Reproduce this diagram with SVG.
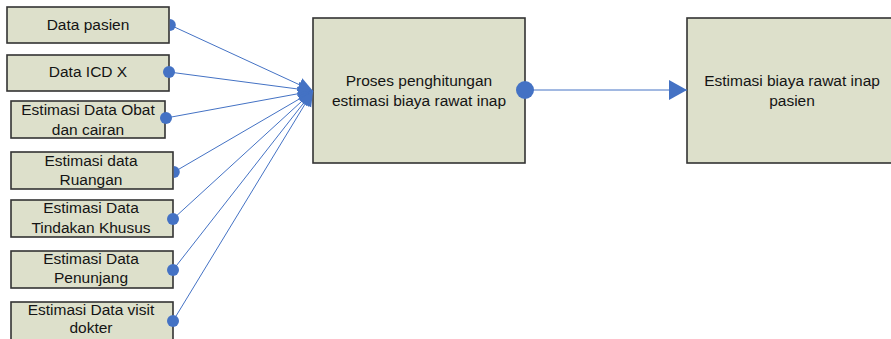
<svg xmlns="http://www.w3.org/2000/svg" width="891" height="339" viewBox="0 0 891 339">
  <style>
    .box { fill: #DDE0CB; stroke: #333333; stroke-width: 1.6; }
    .lbl { font-family: "Liberation Sans", Arial, sans-serif; font-size: 15.5px; fill: #141414; text-anchor: middle; }
    .wire { stroke: #4472C4; stroke-width: 1; fill: none; }
    .dot { fill: #4472C4; }
  </style>
  <defs>
    <marker id="arrowIn" markerUnits="userSpaceOnUse" markerWidth="16" markerHeight="16" viewBox="0 -8 16 16" refX="15" refY="0" orient="auto">
      <path d="M0,-7 L15,0 L0,7 z" fill="#4472C4"/>
    </marker>
    <marker id="arrowOut" markerUnits="userSpaceOnUse" markerWidth="20" markerHeight="22" viewBox="0 -11 20 22" refX="18" refY="0" orient="auto">
      <path d="M0,-10 L18,0 L0,10 z" fill="#4472C4"/>
    </marker>
  </defs>

  <!-- input nodes -->
  <g id="data-pasien">
    <rect class="box" x="7" y="7" width="162" height="36"/>
    <text class="lbl" x="88" y="30">Data pasien</text>
  </g>
  <g id="data-icd-x">
    <rect class="box" x="7" y="55" width="162" height="36"/>
    <text class="lbl" x="88" y="77">Data ICD X</text>
  </g>
  <g id="obat-cairan">
    <rect class="box" x="11" y="101" width="154" height="37"/>
    <text class="lbl" x="88" y="115">Estimasi Data Obat</text>
    <text class="lbl" x="88" y="135">dan cairan</text>
  </g>
  <g id="ruangan">
    <rect class="box" x="11" y="152" width="162" height="37"/>
    <text class="lbl" x="91" y="166">Estimasi data</text>
    <text class="lbl" x="91" y="185">Ruangan</text>
  </g>
  <g id="tindakan-khusus">
    <rect class="box" x="11" y="200" width="162" height="37"/>
    <text class="lbl" x="91" y="213">Estimasi Data</text>
    <text class="lbl" x="91" y="233">Tindakan Khusus</text>
  </g>
  <g id="penunjang">
    <rect class="box" x="11" y="251" width="162" height="37"/>
    <text class="lbl" x="91" y="264">Estimasi Data</text>
    <text class="lbl" x="91" y="283">Penunjang</text>
  </g>
  <g id="visit-dokter">
    <rect class="box" x="11" y="302" width="162" height="40"/>
    <text class="lbl" x="91" y="315">Estimasi Data visit</text>
    <text class="lbl" x="91" y="333">dokter</text>
  </g>

  <!-- process node -->
  <g id="proses">
    <rect class="box" x="313" y="18" width="212" height="145"/>
    <text class="lbl" x="419" y="86">Proses penghitungan</text>
    <text class="lbl" x="419" y="106">estimasi biaya rawat inap</text>
  </g>

  <!-- result node -->
  <g id="estimasi-biaya">
    <rect class="box" x="687" y="18" width="212" height="145"/>
    <text class="lbl" x="792" y="86">Estimasi biaya rawat inap</text>
    <text class="lbl" x="792" y="106">pasien</text>
  </g>

  <!-- connectors -->
  <g id="connectors">
    <line class="wire" x1="170" y1="25" x2="313" y2="91" marker-end="url(#arrowIn)"/>
    <line class="wire" x1="169" y1="72" x2="313" y2="91" marker-end="url(#arrowIn)"/>
    <line class="wire" x1="166" y1="118" x2="313" y2="91" marker-end="url(#arrowIn)"/>
    <line class="wire" x1="174" y1="172" x2="313" y2="91" marker-end="url(#arrowIn)"/>
    <line class="wire" x1="173" y1="219" x2="313" y2="91" marker-end="url(#arrowIn)"/>
    <line class="wire" x1="173" y1="270" x2="313" y2="91" marker-end="url(#arrowIn)"/>
    <line class="wire" x1="173" y1="321" x2="313" y2="91" marker-end="url(#arrowIn)"/>
    <!-- half dots where the end sits behind the box edge -->
    <path class="dot" d="M169.8,19 A6,6 0 0 1 169.8,31 z"/>
    <circle class="dot" cx="169" cy="72" r="6"/>
    <circle class="dot" cx="166" cy="118" r="6"/>
    <path class="dot" d="M173.8,166 A6,6 0 0 1 173.8,178 z"/>
    <circle class="dot" cx="173" cy="219" r="6"/>
    <circle class="dot" cx="173" cy="270" r="6"/>
    <circle class="dot" cx="173" cy="321" r="6"/>
    <!-- process to result -->
    <line class="wire" x1="525" y1="90" x2="687" y2="90" stroke="#6F93D0" marker-end="url(#arrowOut)"/>
    <circle class="dot" cx="525" cy="90" r="9"/>
  </g>
</svg>
